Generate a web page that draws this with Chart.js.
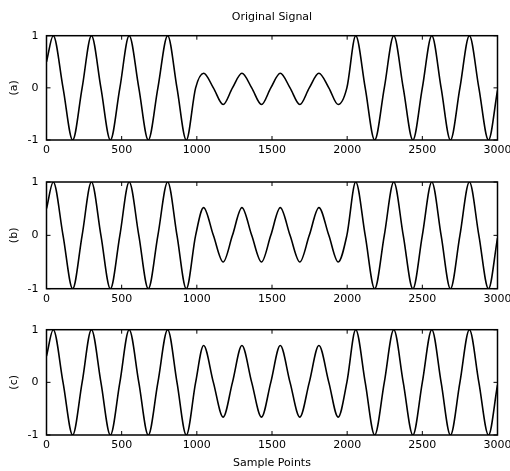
<!DOCTYPE html>
<html>
<head>
<meta charset="utf-8">
<script src="https://cdn.jsdelivr.net/npm/chart.js@4.4.1/dist/chart.umd.min.js"></script>
<style>
  html, body { margin: 0; padding: 0; background: #fff; }
  #wrap { position: relative; width: 510px; height: 471px; }
  #wrap canvas { position: absolute; left: 0; }
</style>
</head>
<body>
<div id="wrap">
  <canvas id="chartA" width="510" height="160" style="top:0px"></canvas>
  <canvas id="chartB" width="510" height="150" style="top:160px"></canvas>
  <canvas id="chartC" width="510" height="161" style="top:310px"></canvas>
</div>
<script>
// sample index of each read point (peaks, zero crossings, troughs)
const samplePoints = [0,
  45, 110, 174, 237, 299, 362, 425, 488, 550, 614, 677, 741, 806, 868, 930, 992,
  1045, 1110, 1175, 1237, 1300, 1365, 1430, 1492, 1555, 1620, 1685, 1748, 1812, 1878, 1940, 1998,
  2057, 2120, 2183, 2247, 2310, 2373, 2437, 2500, 2563, 2625, 2687, 2750,
  2813, 2876, 2940, 3000];

const signalA = [0.5,
  1, 0, -1, 0, 1, 0, -1, 0, 1, 0, -1, 0, 1, 0, -1, 0,
  0.28, 0, -0.32, 0, 0.28, 0, -0.32, 0, 0.28, 0, -0.32, 0, 0.28, 0, -0.32, 0,
  1, 0, -1, 0, 1, 0, -1, 0, 1, 0, -1, 0,
  1, 0, -1, -0.05];

const signalB = [0.5,
  1, 0, -1, 0, 1, 0, -1, 0, 1, 0, -1, 0, 1, 0, -1, 0,
  0.52, 0, -0.5, 0, 0.52, 0, -0.5, 0, 0.52, 0, -0.5, 0, 0.52, 0, -0.5, 0,
  1, 0, -1, 0, 1, 0, -1, 0, 1, 0, -1, 0,
  1, 0, -1, -0.05];

const signalC = [0.5,
  1, 0, -1, 0, 1, 0, -1, 0, 1, 0, -1, 0, 1, 0, -1, 0,
  0.7, 0, -0.66, 0, 0.7, 0, -0.66, 0, 0.7, 0, -0.66, 0, 0.7, 0, -0.66, 0,
  1, 0, -1, 0, 1, 0, -1, 0, 1, 0, -1, 0,
  1, 0, -1, -0.05];

const xTickLabels = [0, 500, 1000, 1500, 2000, 2500, 3000];
const yTickLabels = [-1, 0, 1];

document.addEventListener('DOMContentLoaded', () => {
  const FONT = { family: '"DejaVu Sans", sans-serif', size: 11 };

  // kotak sumbu + tick ke dalam ala MATLAB
  const boxPlugin = {
    id: 'boxPlugin',
    afterDatasetsDraw(chart) {
      const { ctx, chartArea: a, scales: { x, y } } = chart;
      const len = 4;
      ctx.save();
      ctx.strokeStyle = '#000';
      ctx.lineWidth = 1.5;
      ctx.strokeRect(a.left, a.top, a.right - a.left, a.bottom - a.top);
      ctx.lineWidth = 1;
      ctx.beginPath();
      x.ticks.forEach(t => {
        const px = x.getPixelForValue(t.value);
        ctx.moveTo(px, a.bottom); ctx.lineTo(px, a.bottom - len);
        ctx.moveTo(px, a.top); ctx.lineTo(px, a.top + len);
      });
      y.ticks.forEach(t => {
        const py = y.getPixelForValue(t.value);
        ctx.moveTo(a.left, py); ctx.lineTo(a.left + len, py);
        ctx.moveTo(a.right, py); ctx.lineTo(a.right - len, py);
      });
      ctx.stroke();
      ctx.restore();
    }
  };

  function makeChart(id, values, yLabel, cfg) {
    const points = samplePoints.map((s, i) => ({ x: s, y: values[i] }));
    return new Chart(document.getElementById(id), {
      type: 'line',
      data: {
        datasets: [{
          data: points,
          borderColor: '#000',
          borderWidth: 1.6,
          pointRadius: 0,
          cubicInterpolationMode: 'monotone',
          fill: false
        }]
      },
      options: {
        responsive: false,
        animation: false,
        events: [],
        layout: { padding: { left: 0, right: 12.5, top: cfg.padTop, bottom: 0 } },
        plugins: {
          legend: { display: false },
          tooltip: { enabled: false },
          title: cfg.title ? {
            display: true,
            text: cfg.title,
            fullSize: false,
            color: '#000',
            font: { ...FONT, weight: 'normal' },
            padding: { top: 11, bottom: 11.5 }
          } : { display: false }
        },
        scales: {
          x: {
            type: 'linear',
            min: 0,
            max: 3000,
            afterBuildTicks: s => { s.ticks = xTickLabels.map(v => ({ value: v })); },
            afterFit: s => { s.height = cfg.xHeight; s.paddingLeft = 0; s.paddingRight = 0; },
            grid: { display: false, drawTicks: false },
            border: { display: false },
            ticks: {
              color: '#000',
              font: FONT,
              padding: 4,
              maxRotation: 0,
              autoSkip: false,
              callback: v => String(v)
            },
            title: cfg.xTitle ? {
              display: true,
              text: cfg.xTitle,
              color: '#000',
              font: FONT,
              padding: { top: 0, bottom: 1 }
            } : { display: false }
          },
          y: {
            min: -1,
            max: 1,
            afterBuildTicks: s => { s.ticks = yTickLabels.map(v => ({ value: v })); },
            afterFit: s => { s.width = 46.5; s.paddingTop = 0; s.paddingBottom = 0; },
            grid: { display: false, drawTicks: false },
            border: { display: false },
            ticks: {
              color: '#000',
              font: FONT,
              padding: 8,
              callback: v => String(v)
            },
            title: {
              display: true,
              text: yLabel,
              color: '#000',
              font: FONT,
              padding: { top: 8, bottom: 0 }
            }
          }
        }
      },
      plugins: [boxPlugin]
    });
  }

  makeChart('chartA', signalA, '(a)', { padTop: 0, xHeight: 20, title: 'Original Signal' });
  makeChart('chartB', signalB, '(b)', { padTop: 22, xHeight: 21.3 });
  makeChart('chartC', signalC, '(c)', { padTop: 19.7, xHeight: 36, xTitle: 'Sample Points' });
});
</script>
</body>
</html>
